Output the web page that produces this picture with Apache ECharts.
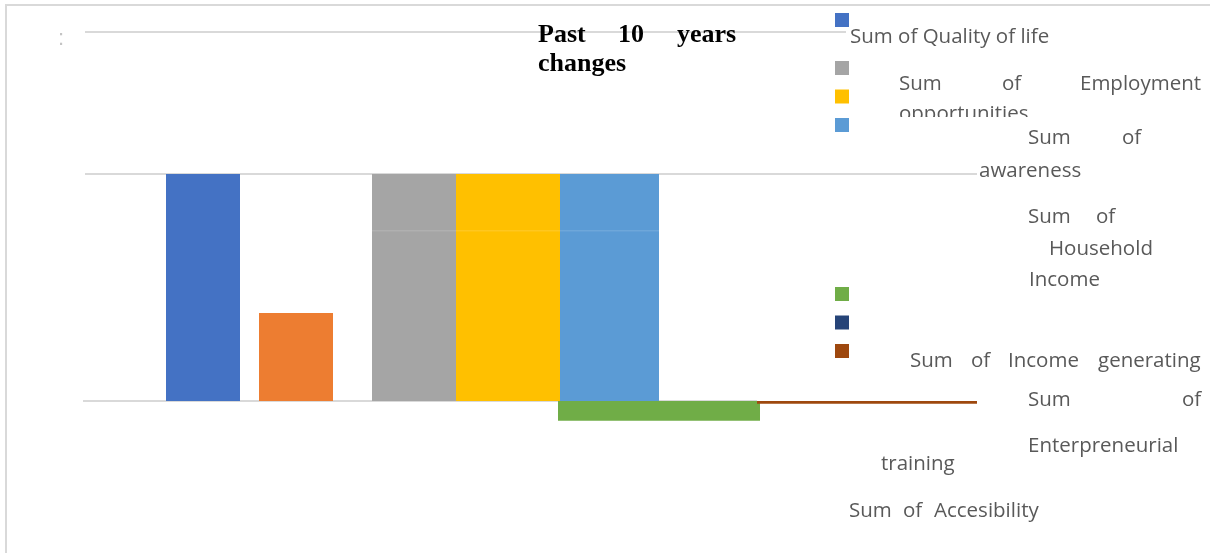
<!DOCTYPE html>
<html>
<head>
<meta charset="utf-8">
<script src="https://cdn.jsdelivr.net/npm/echarts@6/dist/echarts.min.js"></script>
<style>
  html, body { margin: 0; padding: 0; background: #fff; }
  #chart { width: 1210px; height: 553px; }
</style>
</head>
<body>
<div id="chart"></div>
<script>
// Series of the "Past 10 years changes" bar chart
const seriesNames = [
  'Sum of Quality of life',
  'Sum of Other',
  'Sum of Employment opportunities',
  'Sum of awareness',
  'Sum of Household Income',
  'Sum of Income generating training',
  'Sum of Enterpreneurial training',
  'Sum of Accesibility'
];
const seriesValues = [8, 3.1, 8, 8, 8, -0.7, 0, -0.1];
const seriesColors = ['#4472C4', '#ED7D31', '#A5A5A5', '#FFC000', '#5B9BD5', '#70AD47', '#264478', '#9E480E'];

// Reference lines (value levels)
const gridLevels = [13, 8, 0];

// Horizontal extent of each bar along the hidden x scale
const barSpans = [[83, 157], [176, 250], [289, 373], [373, 477], [477, 576], [475, 677], [577, 674], [674, 894]];
// Horizontal extent of each reference line
const gridSpans = [[2, 763], [2, 894], [0, 674]];

const legendFont = '"Open Sans", sans-serif';
const textColor = '#595959';

// Word placements of the legend captions
const legendWords = [
  ['Sum of Quality of life', 850, 37],
  ['Sum', 899, 84], ['of', 1002, 84], ['Employment', 1080, 84],
  ['opportunities', 899, 114],
  ['Sum', 1028, 138], ['of', 1122, 138],
  ['awareness', 979, 171],
  ['Sum', 1028, 217], ['of', 1096, 217],
  ['Household', 1049, 249],
  ['Income', 1029, 280],
  ['Sum', 910, 361], ['of', 971, 361], ['Income', 1008, 361], ['generating', 1098, 361],
  ['Sum', 1028, 400], ['of', 1182, 400],
  ['Enterpreneurial', 1028, 446],
  ['training', 881, 464],
  ['Sum', 849, 511], ['of', 903, 511], ['Accesibility', 934, 511]
];
const titleWords = [['Past', 538, 35], ['10', 618, 35], ['years', 677, 35], ['changes', 538, 64]];

const chart = echarts.init(document.getElementById('chart'), null, { renderer: 'canvas' });

const barSeries = seriesNames.map((name, i) => ({
  name: name,
  type: 'custom',
  z: 3,
  itemStyle: { color: seriesColors[i] },
  encode: { x: 0, y: 1 },
  data: [[i, seriesValues[i]]],
  renderItem: (params, api) => {
    const idx = api.value(0);
    const v = api.value(1);
    const span = barSpans[idx];
    const a = api.coord([span[0], 0]);
    const b = api.coord([span[1], v]);
    return {
      type: 'rect',
      shape: { x: a[0], y: Math.min(a[1], b[1]), width: b[0] - a[0], height: Math.abs(b[1] - a[1]) },
      style: { fill: api.visual('color') }
    };
  }
}));

const gridSeries = {
  name: 'grid',
  type: 'custom',
  z: 1,
  silent: true,
  encode: { x: 0, y: 1 },
  data: gridLevels.map((v, i) => [i, v]),
  renderItem: (params, api) => {
    const idx = api.value(0);
    const span = gridSpans[idx];
    const a = api.coord([span[0], api.value(1)]);
    const b = api.coord([span[1], api.value(1)]);
    return {
      type: 'line',
      shape: { x1: a[0], y1: a[1], x2: b[0], y2: b[1] },
      style: { stroke: '#d9d9d9', lineWidth: 2 }
    };
  }
};

// faint line crossing the tall bars
const overlaySeries = {
  name: 'overlay',
  type: 'custom',
  z: 5,
  silent: true,
  encode: { x: 0, y: 1 },
  data: [[0, 6]],
  renderItem: (params, api) => {
    const a = api.coord([289, api.value(1)]);
    const b = api.coord([576, api.value(1)]);
    return {
      type: 'line',
      shape: { x1: a[0], y1: a[1], x2: b[0], y2: b[1] },
      style: { stroke: 'rgba(255,255,255,0.12)', lineWidth: 1.5 }
    };
  }
};

function legendBlock(names, top) {
  return {
    data: names.map(n => ({ name: n, icon: 'rect' })),
    orient: 'vertical',
    left: 835,
    top: top,
    padding: 0,
    itemWidth: 14,
    itemHeight: 14,
    itemGap: 14.5,
    selectedMode: false,
    formatter: () => '',
    textStyle: { fontSize: 10 }
  };
}

const graphics = [
  // chart frame
  { type: 'polyline', z: 0, shape: { points: [[6, 553], [6, 5], [1210, 5]] }, style: { stroke: '#d9d9d9', lineWidth: 2, fill: null } },
  { type: 'text', x: 58, y: 39, style: { text: ':', font: '22px "Liberation Sans"', fill: '#c4c4c4', verticalAlign: 'middle' } }
];
titleWords.forEach(w => graphics.push({
  type: 'text', x: w[1], y: w[2], z: 10,
  style: { text: w[0], font: 'bold 26px "Liberation Serif", serif', fill: '#000', verticalAlign: 'middle' }
}));
legendWords.forEach(w => graphics.push({
  type: 'text', x: w[1], y: w[2], z: 10,
  style: { text: w[0], font: '20.5px ' + legendFont, fill: textColor, verticalAlign: 'middle' }
}));
// the second caption line is cut off by its box
graphics.push({ type: 'rect', z: 11, shape: { x: 893, y: 117, width: 150, height: 10 }, style: { fill: '#fff' } });

chart.setOption({
  backgroundColor: '#fff',
  animation: false,
  grid: { left: 83, width: 894, top: 32, bottom: 123.75 },
  xAxis: { type: 'value', min: 0, max: 894, show: false },
  yAxis: { type: 'value', min: -1, max: 13, show: false },
  legend: [
    legendBlock([seriesNames[0]], 13),
    legendBlock([seriesNames[2], seriesNames[3], seriesNames[4]], 61),
    legendBlock([seriesNames[5], seriesNames[6], seriesNames[7]], 287)
  ],
  graphic: graphics,
  series: [gridSeries].concat(barSeries, [overlaySeries])
});
</script>
</body>
</html>
